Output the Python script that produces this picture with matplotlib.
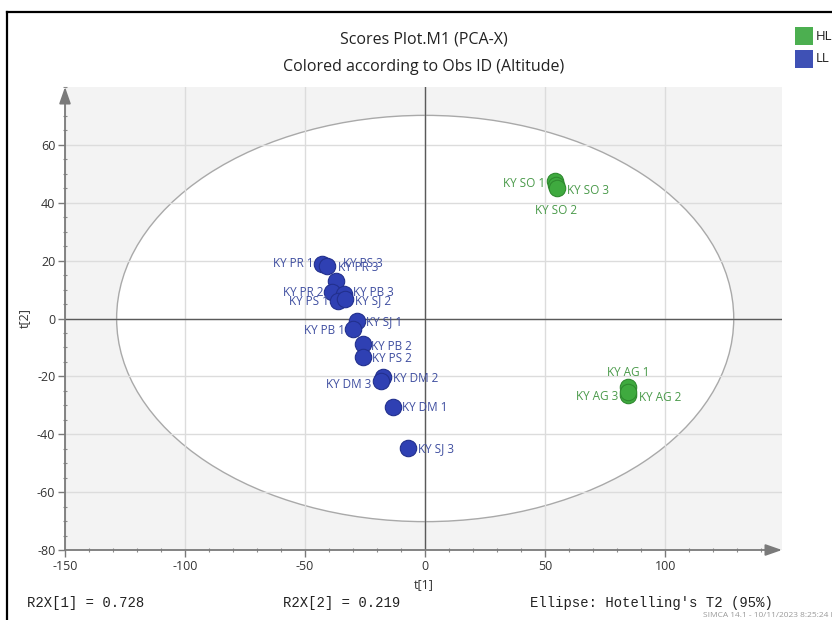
import matplotlib
matplotlib.use("Agg")
import matplotlib.pyplot as plt
from matplotlib.patches import Ellipse, Rectangle
from matplotlib.lines import Line2D
from matplotlib.ticker import MultipleLocator

# PCA score values t[1], t[2] per observation
hl_names = ["KY SO 1", "KY SO 2", "KY SO 3", "KY AG 1", "KY AG 2", "KY AG 3"]
hl_t1 = [54.2, 54.6, 55.1, 84.5, 84.5, 84.5]
hl_t2 = [47.5, 46.0, 45.2, -23.5, -26.3, -25.4]

ll_names = ["KY PR 1", "KY PR 3", "KY PS 3", "KY PR 2", "KY PB 3", "KY PS 1",
            "KY SJ 2", "KY SJ 1", "KY PB 1", "KY PB 2", "KY PS 2", "KY DM 2",
            "KY DM 3", "KY DM 1", "KY SJ 3"]
ll_t1 = [-43.0, -41.0, -37.1, -38.9, -34.0, -36.1,
         -33.3, -28.5, -29.9, -26.1, -25.7, -17.4,
         -18.5, -13.2, -7.2]
ll_t2 = [18.9, 18.0, 12.9, 9.1, 8.5, 6.2,
         6.8, -0.7, -3.6, -8.8, -13.4, -20.3,
         -21.7, -30.7, -44.9]

# Hotelling's T2 (95%) ellipse semi-axes
ell_a = 128.5
ell_b = 70.2

r2x = [0.728, 0.219]

# label placement: (dx, dy) in points, horizontal alignment
hl_place = [((-7, -2), "right"), ((0, -18), "center"), ((7, -2), "left"),
            ((0, 10), "center"), ((8, -2), "left"), ((-7, -3), "right")]
ll_place = [((-6, 0), "right"), ((8, -1), "left"), ((5, 13), "left"),
            ((-6, 0), "right"), ((7, 1), "left"), ((-7, -1), "right"),
            ((7, -1), "left"), ((7, -1), "left"), ((-6, -1), "right"),
            ((6, -2), "left"), ((6, -1), "left"), ((7, -1), "left"),
            ((-7, -2), "right"), ((6, 0), "left"), ((7, 0), "left")]

HL_FACE, HL_EDGE, HL_TEXT = "#3faa3f", "#2f8a2f", "#4a9a4a"
LL_FACE, LL_EDGE, LL_TEXT = "#2f40b3", "#22308e", "#3f4ea0"

W, H = 832, 620
plt.rcParams["font.family"] = ["Open Sans", "DejaVu Sans"]
plt.rcParams["axes.unicode_minus"] = False
fig = plt.figure(figsize=(W / 100, H / 100), dpi=100)

# axes box in pixel terms
left, right, top, bottom = 65, 782, 87, 550
ax = fig.add_axes([left / W, 1 - bottom / H, (right - left) / W, (bottom - top) / H])
ax.set_facecolor("#f3f3f3")
ax.set_xlim(-150, 148.6)
ax.set_ylim(-80, 80)

for s in ax.spines.values():
    s.set_visible(False)

ax.set_axisbelow(True)
ax.add_patch(Ellipse((0, 0), 2 * ell_a, 2 * ell_b, facecolor="white",
                     edgecolor="#a9a9a9", lw=1.0, zorder=0.2))
ax.grid(True, which="major", color="#dcdcdc", lw=1.0)
ax.axhline(0, color="#5a5a5a", lw=1.0, zorder=1)
ax.axvline(0, color="#5a5a5a", lw=1.0, zorder=1)

# axes with arrow heads
arrow = dict(arrowstyle="-|>,head_length=1.0,head_width=0.35", color="#7a7a7a", lw=1.3,
             shrinkA=0, shrinkB=0)
ax.annotate("", xy=(0, 1), xytext=(0, 0), xycoords="axes fraction", arrowprops=arrow,
            annotation_clip=False)
ax.annotate("", xy=(1, 0), xytext=(0, 0), xycoords="axes fraction", arrowprops=arrow,
            annotation_clip=False)

ax.set_xticks([-150, -100, -50, 0, 50, 100])
ax.set_yticks([-80, -60, -40, -20, 0, 20, 40, 60])
ax.xaxis.set_minor_locator(MultipleLocator(10))
ax.yaxis.set_minor_locator(MultipleLocator(5))
ax.tick_params(which="major", length=5, width=1, color="#7a7a7a", labelsize=9,
               labelcolor="#333333", pad=2)
ax.tick_params(which="minor", length=3, width=0.8, color="#8a8a8a", direction="inout")

ax.set_xlabel("t[1]", fontsize=9, color="#333333", labelpad=4)
ax.set_ylabel("t[2]", fontsize=9, color="#333333", labelpad=4)

ax.scatter(ll_t1, ll_t2, s=140, c=LL_FACE, edgecolors=LL_EDGE, linewidths=0.8, zorder=3)
ax.scatter(hl_t1, hl_t2, s=140, c=HL_FACE, edgecolors=HL_EDGE, linewidths=0.8, zorder=3)

for names, xs, ys, place, col in [(ll_names, ll_t1, ll_t2, ll_place, LL_TEXT),
                                  (hl_names, hl_t1, hl_t2, hl_place, HL_TEXT)]:
    for n, x, y, (off, ha) in zip(names, xs, ys, place):
        ax.annotate(n, (x, y), xytext=off, textcoords="offset points", ha=ha,
                    va="center", fontsize=8.5, color=col, zorder=4)

# titles
cx = (left + right) / 2 / W
fig.text(cx, 1 - 40 / H, "Scores Plot.M1 (PCA-X)", ha="center", va="center",
         fontsize=11.5, color="#222222")
fig.text(cx, 1 - 67 / H, "Colored according to Obs ID (Altitude)", ha="center",
         va="center", fontsize=11.5, color="#222222")

# group legend in the top right corner
for i, (lab, col) in enumerate([("HL", "#4caf50"), ("LL", "#3f51b5")]):
    y0 = 27 + i * 23
    fig.add_artist(Rectangle((795 / W, 1 - (y0 + 18) / H), 18 / W, 18 / H,
                             transform=fig.transFigure, facecolor=col, edgecolor="none"))
    fig.text(816 / W, 1 - (y0 + 9) / H, lab, ha="left", va="center", fontsize=9.5,
             color="#222222")

# frame around the plot window
fig.add_artist(Line2D([7 / W, 7 / W], [0, 1 - 12 / H], transform=fig.transFigure,
                      color="black", lw=1.6))
fig.add_artist(Line2D([7 / W, 1], [1 - 12 / H, 1 - 12 / H], transform=fig.transFigure,
                      color="black", lw=1.6))

# footer statistics
mono = ["Liberation Mono", "DejaVu Sans Mono"]
fig.text(27 / W, 1 - 603 / H, "R2X[1] = %.3f" % r2x[0], family=mono, fontsize=10,
         color="#222222", va="center")
fig.text(283 / W, 1 - 603 / H, "R2X[2] = %.3f" % r2x[1], family=mono, fontsize=10,
         color="#222222", va="center")
fig.text(530 / W, 1 - 603 / H, "Ellipse: Hotelling's T2 (95%)", family=mono,
         fontsize=10, color="#222222", va="center")
fig.text(703 / W, 1 - 615 / H, "SIMCA 14.1 - 10/11/2023 8:25:24 PM (UTC+", fontsize=6,
         color="#9a9a9a", va="center")

fig.savefig("out.png", dpi=100)
